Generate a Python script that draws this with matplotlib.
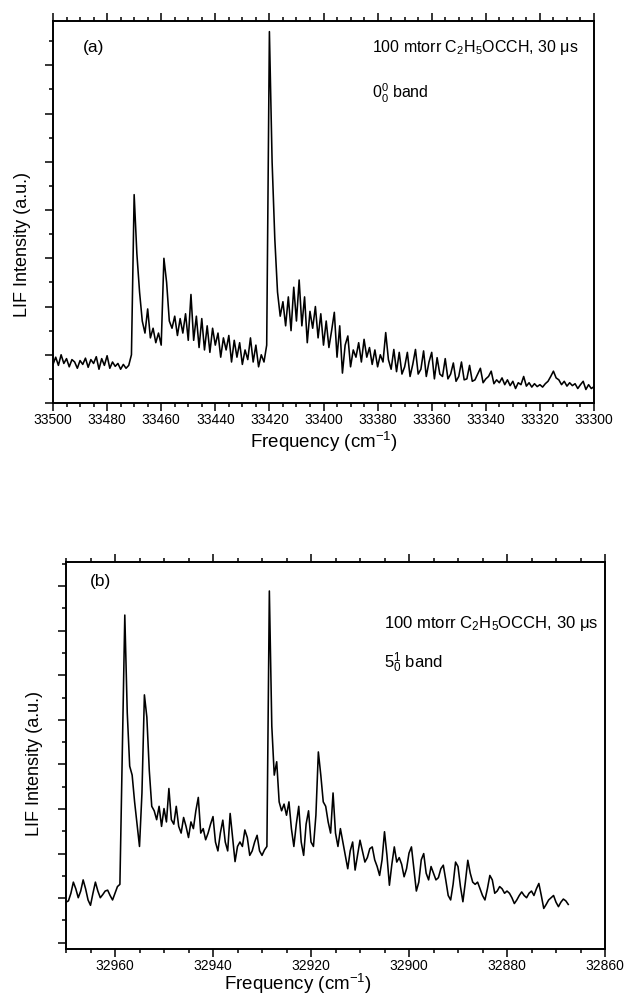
import numpy as np
import matplotlib
matplotlib.use("Agg")
import matplotlib.pyplot as plt
from matplotlib.ticker import MultipleLocator, NullFormatter

plt.rcParams['font.family'] = ['Liberation Sans', 'DejaVu Sans']
plt.rcParams['mathtext.fontset'] = 'custom'
plt.rcParams['mathtext.rm'] = 'Liberation Sans'
plt.rcParams['mathtext.it'] = 'Liberation Sans:italic'
plt.rcParams['mathtext.bf'] = 'Liberation Sans:bold'
plt.rcParams['mathtext.default'] = 'regular'

# ---------------- data: panel (a), 0_0^0 band ----------------
freq_a_start, freq_a_step = 33500, -1.0
lif_a = [
    0.80, 0.95, 0.78, 1.00, 0.82, 0.92, 0.75, 0.90, 0.85, 0.72,   # 33500-33491
    0.88, 0.80, 0.93, 0.74, 0.90, 0.82, 0.96, 0.70, 0.92, 0.78,   # 33490-33481
    0.98, 0.72, 0.85, 0.76, 0.82, 0.70, 0.80, 0.72, 0.78,         # 33480-33472
    1.00, 4.32, 3.10, 2.30, 1.70, 1.45, 1.95, 1.35, 1.55, 1.25, 1.45,  # 33471-33461
    1.20, 3.00, 2.50, 1.70, 1.55, 1.80, 1.40, 1.75, 1.45, 1.85,   # 33460-33451
    1.30, 2.25, 1.30, 1.80, 1.15, 1.75, 1.10, 1.60, 1.05, 1.55,   # 33450-33441
    1.20, 1.45, 0.95, 1.35, 1.10, 1.40, 0.85, 1.30, 0.95, 1.25,   # 33440-33431
    0.80, 1.10, 0.90, 1.35, 0.85, 1.20, 0.75, 1.00, 0.85, 1.20,   # 33430-33421
    7.70, 5.00, 3.40, 2.30, 1.80, 2.10, 1.60, 2.20, 1.50, 2.40,   # 33420-33411
    1.70, 2.55, 1.60, 2.20, 1.25, 1.90, 1.55, 2.00, 1.35, 1.85,   # 33410-33401
    1.20, 1.70, 1.15, 1.50, 1.88, 0.95, 1.60, 0.62, 1.20, 1.39,   # 33400-33391
    0.75, 1.10, 0.95, 1.25, 0.85, 1.32, 0.95, 1.15, 0.80, 1.10,   # 33390-33381
    0.75, 1.00, 0.85, 1.46, 0.90, 0.70, 1.11, 0.65, 1.05, 0.60,   # 33380-33371
    0.75, 1.05, 0.55, 0.80, 1.11, 0.60, 0.70, 1.08, 0.55, 0.85,   # 33370-33361
    1.05, 0.50, 0.94, 0.60, 0.55, 0.92, 0.50, 0.60, 0.83, 0.45,   # 33360-33351
    0.55, 0.85, 0.48, 0.50, 0.78, 0.45, 0.48, 0.60, 0.72, 0.42,   # 33350-33341
    0.50, 0.55, 0.66, 0.40, 0.48, 0.42, 0.52, 0.38, 0.48, 0.36,   # 33340-33331
    0.45, 0.30, 0.42, 0.38, 0.55, 0.35, 0.42, 0.33, 0.40, 0.34,   # 33330-33321
    0.38, 0.33, 0.40, 0.45, 0.55, 0.66, 0.52, 0.48, 0.38, 0.45,   # 33320-33311
    0.35, 0.42, 0.36, 0.40, 0.30, 0.38, 0.45, 0.28, 0.38, 0.30,   # 33310-33301
    0.34,                                                         # 33300
]

# ---------------- data: panel (b), 5_0^1 band ----------------
freq_b_start, freq_b_step = 32970.0, -0.5
lif_b = [
    1.05, 1.08, 1.25, 1.50, 1.35, 1.15, 1.30, 1.55, 1.35, 1.10,   # 32970.0-32965.5
    0.98, 1.25, 1.50, 1.30, 1.15, 1.22, 1.30, 1.32, 1.20, 1.10,   # 32965.0-32960.5
    1.25, 1.40, 1.45,                                             # 32960.0-32959.0
    4.50, 7.49, 5.30, 4.10, 3.90, 3.30, 2.80, 2.30, 3.50, 5.70,   # 32958.5-32954.0
    5.20, 4.00, 3.20, 3.10,                                       # 32953.5-32952.0
    2.90, 3.20, 2.75, 3.15, 2.85, 3.60, 2.90, 2.80, 3.20, 2.75,   # 32951.5-32947.0
    2.60, 2.95, 2.75, 2.50, 2.85, 2.70, 3.10, 3.40, 2.60, 2.70,   # 32946.5-32942.0
    2.45, 2.60, 2.80, 2.97, 2.40, 2.20, 2.60, 2.89, 2.40, 2.20,   # 32941.5-32937.0
    3.04, 2.50, 1.96, 2.30, 2.40, 2.30, 2.67, 2.50, 2.10, 2.20,   # 32936.5-32932.0
    2.40, 2.55, 2.20, 2.10, 2.22, 2.30,                           # 32931.5-32929.0
    8.03, 5.00, 3.90, 4.20, 3.30, 3.10, 3.25, 3.00, 3.30, 2.70,   # 32928.5-32924.0
    2.30, 2.80, 3.20, 2.40, 2.10, 2.80, 3.10, 2.40, 2.30, 3.00,   # 32923.5-32919.0
    4.42, 3.90, 3.30, 3.20, 2.85, 2.60, 3.50, 2.60, 2.30, 2.70,   # 32918.5-32914.0
    2.40, 2.10, 1.80, 2.20,                                       # 32913.5-32912.0
    2.40, 1.77, 2.10, 2.44, 2.20, 1.95, 2.05, 2.25, 2.29, 2.00,   # 32911.5-32907.0
    1.85, 1.65, 2.00, 2.63, 2.10, 1.43, 1.90, 2.29, 1.95, 2.05,   # 32906.5-32902.0
    1.90, 1.62, 1.80, 2.15, 2.29, 1.80, 1.30, 1.50, 2.00, 2.14,   # 32901.5-32897.0
    1.70, 1.55, 1.85, 1.70, 1.55, 1.60, 1.80, 1.88, 1.55, 1.20,   # 32896.5-32892.0
    1.10, 1.45, 1.95, 1.85, 1.40, 1.06, 1.50, 1.99, 1.70, 1.50,   # 32891.5-32887.0
    1.45, 1.50, 1.35, 1.20, 1.10, 1.35, 1.65, 1.55, 1.25, 1.30,   # 32886.5-32882.0
    1.40, 1.35, 1.25, 1.30, 1.25, 1.15, 1.02, 1.10, 1.20, 1.28,   # 32881.5-32877.0
    1.20, 1.15, 1.25, 1.30, 1.20, 1.35, 1.47, 1.20, 0.91, 1.00,   # 32876.5-32872.0
    1.10, 1.15, 1.20, 1.05, 0.95, 1.05, 1.12, 1.08, 1.00,         # 32871.5-32867.5
]

xticks_a = [33500, 33480, 33460, 33440, 33420, 33400, 33380, 33360, 33340, 33320, 33300]
xticks_b = [32960, 32940, 32920, 32900, 32880, 32860]

freq_a = freq_a_start + freq_a_step * np.arange(len(lif_a))
freq_b = freq_b_start + freq_b_step * np.arange(len(lif_b))

fig = plt.figure(figsize=(6.26, 10), dpi=100)
ax1 = fig.add_axes([53/626, 1 - 403/1000, (594-53)/626, (403-21)/1000])
ax2 = fig.add_axes([66/626, 1 - 949/1000, (605-66)/626, (949-562)/1000])

for ax in (ax1, ax2):
    for s in ax.spines.values():
        s.set_linewidth(1.4)
    ax.tick_params(which='both', direction='out', top=True, right=False,
                   labelsize=10, width=1.1, pad=1.5)
    ax.tick_params(which='major', length=6)
    ax.tick_params(which='minor', length=3)
    ax.yaxis.set_major_formatter(NullFormatter())

# panel (a)
ax1.plot(freq_a, lif_a, color='black', lw=1.15)
ax1.set_xlim(33500, 33300)
ax1.set_ylim(0, 7.92)
ax1.set_xticks(xticks_a)
ax1.set_xticklabels([str(t) for t in xticks_a])
ax1.xaxis.set_minor_locator(MultipleLocator(5))
ax1.yaxis.set_major_locator(MultipleLocator(1))
ax1.yaxis.set_minor_locator(MultipleLocator(0.5))
ax1.set_xlabel('Frequency (cm$^{-1}$)', fontsize=13.5, labelpad=2)
ax1.set_ylabel('LIF Intensity (a.u.)', fontsize=13)
ax1.yaxis.set_label_coords(-0.040, 0.416)
ax1.text(0.055, 0.93, '(a)', transform=ax1.transAxes, fontsize=12.5, va='center')
ax1.text(0.59, 0.93, '100 mtorr C$_2$H$_5$OCCH, 30 μs', transform=ax1.transAxes,
         fontsize=11.5, va='center')
ax1.text(0.59, 0.81, '0$_0^0$ band', transform=ax1.transAxes, fontsize=11.5, va='center')

# panel (b)
ax2.plot(freq_b, lif_b, color='black', lw=1.15)
ax2.set_xlim(32970, 32860)
ax2.set_ylim(0, 8.68)
ax2.set_xticks(xticks_b)
ax2.set_xticklabels([str(t) for t in xticks_b])
ax2.xaxis.set_minor_locator(MultipleLocator(5))
ax2.yaxis.set_major_locator(MultipleLocator(1, offset=0.14))
ax2.yaxis.set_minor_locator(MultipleLocator(0.5, offset=0.14))
ax2.set_xlabel('Frequency (cm$^{-1}$)', fontsize=13.5)
ax2.xaxis.set_label_coords(0.43, -0.058)
ax2.set_ylabel('LIF Intensity (a.u.)', fontsize=13)
ax2.yaxis.set_label_coords(-0.043, 0.48)
ax2.text(0.045, 0.95, '(b)', transform=ax2.transAxes, fontsize=12.5, va='center')
ax2.text(0.59, 0.84, '100 mtorr C$_2$H$_5$OCCH, 30 μs', transform=ax2.transAxes,
         fontsize=12, va='center')
ax2.text(0.59, 0.74, '5$_0^1$ band', transform=ax2.transAxes, fontsize=12, va='center')

fig.savefig('out.png', dpi=100)
